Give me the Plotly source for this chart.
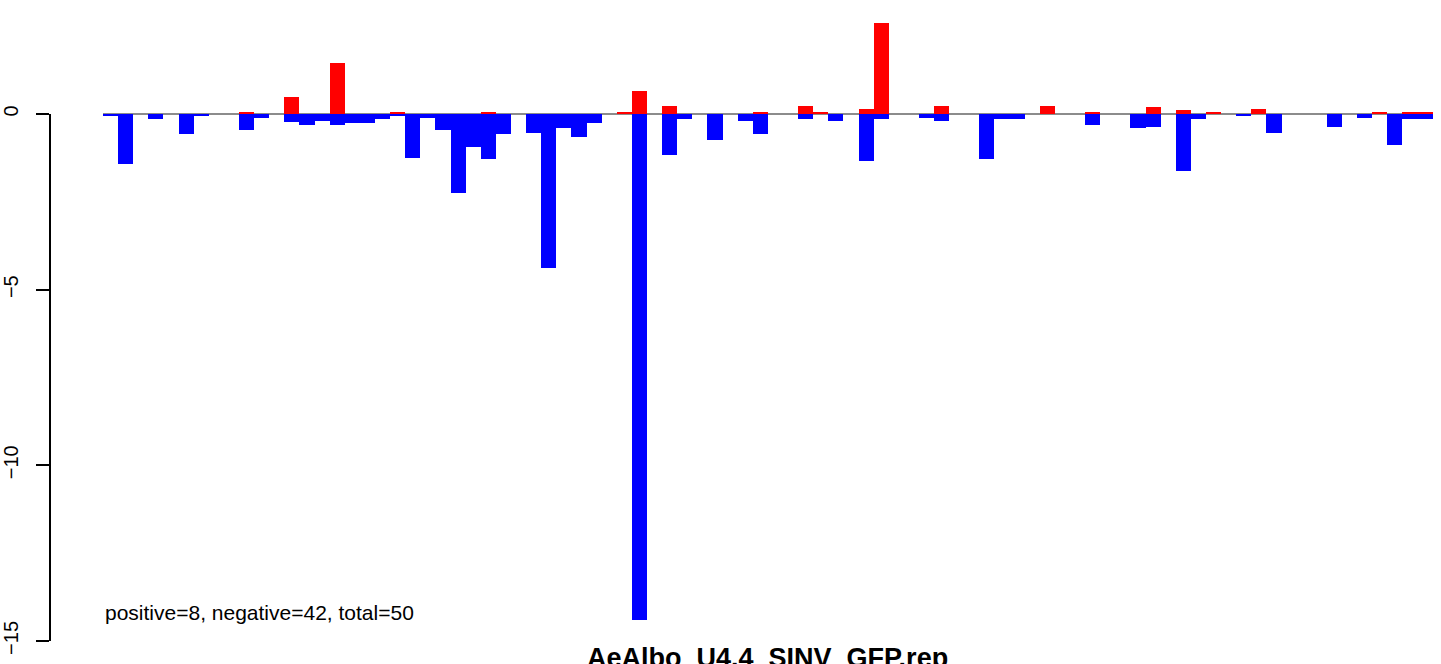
import plotly.graph_objects as go

# per-position values (88 positions)
pos_vals = [0, 0, 0, 0, 0, 0, 0, 0, 0, 0.04,
            0, 0, 0.49, 0, 0, 1.46, 0, 0, 0, 0.04,
            0, 0, 0, 0, 0, 0.04, 0, 0, 0, 0,
            0, 0, 0, 0, 0.07, 0.66, 0, 0.24, 0, 0,
            0, 0, 0, 0.04, 0, 0, 0.24, 0.07, 0, 0,
            0.15, 2.60, 0, 0, 0, 0.24, 0, 0, 0, 0,
            0, 0, 0.24, 0, 0, 0.04, 0, 0, 0, 0.21,
            0, 0.12, 0, 0.07, 0, 0, 0.13, 0, 0, 0,
            0, 0, 0, 0, 0.07, 0, 0.07, 0.07]
neg_vals = [-0.05, -1.41, 0, -0.13, 0, -0.56, -0.05, 0, 0, -0.45,
            -0.10, 0, -0.22, -0.30, -0.19, -0.30, -0.27, -0.27, -0.13, -0.05,
            -1.24, -0.10, -0.45, -2.24, -0.95, -1.27, -0.56, 0, -0.53, -4.39,
            -0.39, -0.65, -0.27, 0, 0, -14.4, 0, -1.16, -0.13, 0,
            -0.73, 0, -0.19, -0.56, 0, 0, -0.13, 0, -0.19, 0,
            -1.33, -0.13, 0, 0, -0.10, -0.19, 0, 0, -1.27, -0.13,
            -0.13, 0, 0, 0, 0, -0.30, 0, 0, -0.39, -0.36,
            0, -1.61, -0.13, 0, 0, -0.05, 0, -0.53, 0, 0,
            0, -0.36, 0, -0.10, 0, -0.87, -0.13, -0.13]
y_ticks = [0, -5, -10, -15]
stats_text = "positive=8, negative=42, total=50"
x_label = "AeAlbo_U4.4_SINV_GFP.rep"

n = len(pos_vals)
xs = [k + 0.5 for k in range(n)]
FONT = "Liberation Sans, Arial, Helvetica, sans-serif"

W, H = 1441, 664
PX_Y = 35.13       # pixels per y unit
PX_X = 15.11       # pixels per bar
ML = 50            # y axis at x=50
MB = 20            # plot bottom at y=644
plot_h = H - MB
zero_px = 114
y_top = zero_px / PX_Y
y_bot = -(plot_h - zero_px) / PX_Y
x_left = -(103 - ML) / PX_X
x_right = x_left + (W - ML) / PX_X

fig = go.Figure()
fig.add_bar(x=xs, y=pos_vals, width=1, marker=dict(color="#FF0000", line=dict(width=0)))
fig.add_bar(x=xs, y=neg_vals, width=1, marker=dict(color="#0000FF", line=dict(width=0)))

fig.update_layout(
    width=W, height=H,
    margin=dict(l=ML, r=0, t=0, b=MB, pad=0),
    barmode="overlay", bargap=0,
    plot_bgcolor="white", paper_bgcolor="white",
    showlegend=False,
    font=dict(family=FONT, color="black"),
    xaxis=dict(range=[x_left, x_right], visible=False, automargin=False),
    yaxis=dict(range=[y_bot, y_top], tickvals=y_ticks,
               ticktext=[str(v).replace("-", "\u2212") for v in y_ticks],
               ticks="outside", ticklen=13, tickwidth=2, tickcolor="black",
               tickangle=-90, ticklabelstandoff=10, automargin=False,
               tickfont=dict(family=FONT, size=20, color="black"),
               showgrid=False, zeroline=False, showline=False),
    shapes=[
        dict(type="line", xref="x", yref="y", x0=0, x1=n, y0=0, y1=0,
             line=dict(color="#8c8c8c", width=2), layer="below"),
        dict(type="line", xref="paper", yref="y", x0=0, x1=0, y0=-15, y1=0,
             line=dict(color="black", width=2)),
    ],
    annotations=[
        dict(text=stats_text, xref="x", yref="y", x=0, y=-14.2,
             xanchor="left", yanchor="middle", showarrow=False,
             font=dict(family=FONT, size=21, color="black")),
        dict(text=x_label, xref="x", yref="paper", x=n / 2, y=0,
             xanchor="center", yanchor="top", showarrow=False, yshift=3,
             font=dict(family=FONT, size=27, color="black", weight="bold")),
    ],
)

fig.write_html("out.html",
               config={"displayModeBar": False},
               post_script="document.body.style.margin='0';document.body.style.overflow='hidden';")
